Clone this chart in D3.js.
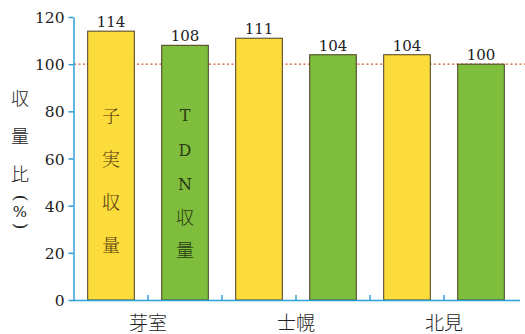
<!DOCTYPE html>
<html><head><meta charset="utf-8">
<script src="https://cdn.jsdelivr.net/npm/d3@7"></script>
<style>body{margin:0;background:#fff}svg{display:block}</style>
</head><body>
<svg id="c" width="525" height="334"></svg>
<script>
const sites = ["芽室","士幌","北見"];
const seriesNames = ["子実収量","TDN収量"];
const grainYield = [114,111,104];
const tdnYield = [108,104,100];
const yTicks = [0,20,40,60,80,100,120];
const refValue = 100;

const svg = d3.select("#c");
const colors = ["#fbdc3b","#7fbd3c"];
const axisColor = "#2f9fd8";
const serif = "'DejaVu Serif',serif";
const cjk = "'Noto Sans CJK JP',sans-serif";

const slots = [];
sites.forEach((s,i)=>{ slots.push({site:s,series:0,v:grainYield[i],key:s+"0"}); slots.push({site:s,series:1,v:tdnYield[i],key:s+"1"}); });

const x = d3.scaleBand().domain(slots.map(d=>d.key)).range([74,518]).paddingInner(0.37).paddingOuter(0.185);
const y = d3.scaleLinear().domain([0,120]).range([300,17]);

// reference line
svg.append("line").attr("x1",74).attr("x2",525).attr("y1",y(refValue)).attr("y2",y(refValue))
  .attr("stroke","#d8532c").attr("stroke-width",1.2).attr("stroke-dasharray","2,2.5");

// bars
svg.selectAll("rect.bar").data(slots).enter().append("rect")
  .attr("x",d=>x(d.key)).attr("width",x.bandwidth())
  .attr("y",d=>y(d.v)).attr("height",d=>y(0)-y(d.v))
  .attr("fill",d=>colors[d.series]).attr("stroke","#4b3d22").attr("stroke-width",1);

// value labels
svg.selectAll("text.val").data(slots).enter().append("text")
  .attr("x",d=>x(d.key)+x.bandwidth()/2).attr("y",d=>y(d.v)-4)
  .attr("text-anchor","middle").attr("font-family",serif).attr("font-size",15).attr("fill","#222")
  .text(d=>d.v);

// y axis
const ya = d3.axisLeft(y).tickValues(yTicks).tickSize(5).tickSizeOuter(0);
const gy = svg.append("g").attr("transform","translate(73.5,0)").call(ya);
gy.attr("font-family",serif);
gy.select(".domain").attr("stroke",axisColor).attr("stroke-width",1.5);
gy.selectAll(".tick line").attr("stroke",axisColor).attr("stroke-width",1.5);
gy.selectAll(".tick text").attr("font-family",serif).attr("font-size",15.5).attr("fill","#222").attr("x",-9).attr("dy","0.36em");

// x axis
const bounds = slots.map(d=>x(d.key)-x.step()*x.paddingInner()/2).slice(1);
svg.append("line").attr("x1",73).attr("x2",520).attr("y1",300.5).attr("y2",300.5).attr("stroke",axisColor).attr("stroke-width",1.5);
svg.selectAll("line.xt").data(bounds).enter().append("line")
  .attr("x1",d=>d).attr("x2",d=>d).attr("y1",300).attr("y2",295).attr("stroke",axisColor).attr("stroke-width",1.5);

// x labels
svg.selectAll("text.site").data(sites).enter().append("text")
  .attr("x",(d,i)=>(x(d+"0")+x(d+"1")+x.bandwidth())/2).attr("y",330)
  .attr("text-anchor","middle").attr("font-family",cjk).attr("font-weight",300).attr("font-size",19).attr("fill","#222")
  .text(d=>d);

// y title
const yt = ["収","量","比"];
yt.forEach((c,i)=>{
  svg.append("text").attr("x",20).attr("y",99+i*38).attr("dy","0.35em").attr("text-anchor","middle")
    .attr("font-family",cjk).attr("font-weight",300).attr("font-size",18).attr("fill","#222").text(c);
});
svg.append("text").attr("transform","translate(20,198) rotate(90)").attr("dy","0.32em").attr("text-anchor","middle")
  .attr("font-family",serif).attr("font-weight",300).attr("font-size",17).attr("fill","#222").text("(");
svg.append("text").attr("x",20).attr("y",212).attr("text-anchor","middle").attr("dy","0.35em")
  .attr("font-family",serif).attr("font-size",15).attr("fill","#222").text("%");
svg.append("text").attr("transform","translate(20,226) rotate(90)").attr("dy","0.32em").attr("text-anchor","middle")
  .attr("font-family",serif).attr("font-weight",300).attr("font-size",17).attr("fill","#222").text(")");

// in-bar labels
const s0 = slots[0], s1 = slots[1];
const lab0 = Array.from(seriesNames[0]);
const lab1 = Array.from(seriesNames[1]);
lab0.forEach((c,i)=>{
  svg.append("text").attr("x",x(s0.key)+x.bandwidth()/2).attr("y",117+i*43).attr("dy","0.35em")
    .attr("text-anchor","middle").attr("font-family","'Noto Serif CJK JP','Noto Sans CJK JP',serif").attr("font-weight",300).attr("font-size",18).attr("fill","#5a3a12").text(c);
});
lab1.forEach((c,i)=>{
  svg.append("text").attr("x",x(s1.key)+x.bandwidth()/2).attr("y",[115,150,184,218,251][i]).attr("dy","0.35em")
    .attr("text-anchor","middle").attr("font-family",/[A-Z]/.test(c)?serif:cjk).attr("font-weight",/[A-Z]/.test(c)?400:300).attr("font-size",/[A-Z]/.test(c)?16:18).attr("fill","#2a3a14").text(c);
});
</script>
</body></html>
